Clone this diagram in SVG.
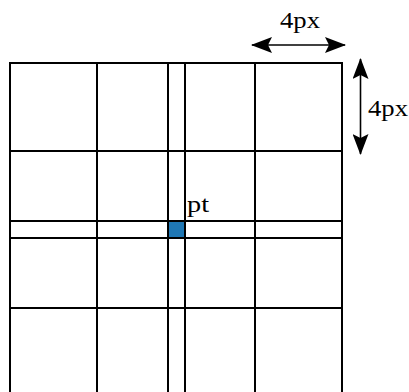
<svg xmlns="http://www.w3.org/2000/svg" width="409" height="392" viewBox="0 0 409 392">
  <defs>
    <style>
      .grid { stroke: #000; stroke-width: 2; fill: none; }
      .arrow { stroke: #000; stroke-width: 1.6; fill: none; marker-start: url(#ah); marker-end: url(#ah); }
      .lbl { font-family: "Liberation Serif", "DejaVu Serif", serif; font-size: 24px; fill: #000; }
    </style>
    <marker id="ah" viewBox="0 0 21 16" refX="20" refY="8" markerWidth="21" markerHeight="16" markerUnits="userSpaceOnUse" orient="auto-start-reverse">
      <path d="M0,0 L21,8 L0,16 L4,8 Z" fill="#000"/>
    </marker>
  </defs>
  <rect width="409" height="392" fill="#fff"/>
  <g id="pt-cell">
    <rect x="168" y="221" width="17" height="17" fill="#1f77b4"/>
  </g>
  <g id="grid" class="grid">
    <line x1="10" y1="63" x2="342" y2="63"/>
    <line x1="10" y1="151" x2="342" y2="151"/>
    <line x1="10" y1="221" x2="342" y2="221"/>
    <line x1="10" y1="238" x2="342" y2="238"/>
    <line x1="10" y1="308" x2="342" y2="308"/>
    <line x1="10" y1="62" x2="10" y2="392"/>
    <line x1="97" y1="62" x2="97" y2="392"/>
    <line x1="168" y1="62" x2="168" y2="392"/>
    <line x1="185" y1="62" x2="185" y2="392"/>
    <line x1="255" y1="62" x2="255" y2="392"/>
    <line x1="342" y1="62" x2="342" y2="392"/>
  </g>
  <g id="connectors">
    <line class="arrow" x1="252" y1="45" x2="345" y2="45"/>
    <line class="arrow" x1="360.5" y1="59" x2="360.5" y2="154"/>
  </g>
  <text class="lbl" x="280" y="28" textLength="40" lengthAdjust="spacingAndGlyphs">4px</text>
  <text class="lbl" x="368" y="116" textLength="40" lengthAdjust="spacingAndGlyphs">4px</text>
  <text class="lbl" x="187" y="212" textLength="22" lengthAdjust="spacingAndGlyphs">pt</text>
</svg>
